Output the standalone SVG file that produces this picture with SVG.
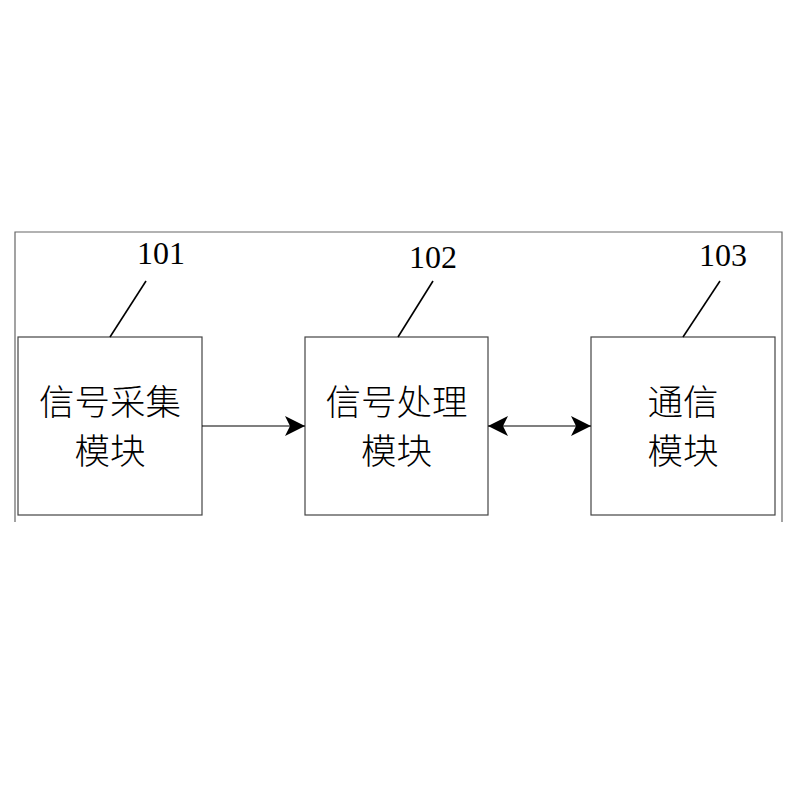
<svg xmlns="http://www.w3.org/2000/svg" width="800" height="800" viewBox="0 0 800 800">
<defs>
<style>
.frame{fill:none;stroke:#666;stroke-width:1.2}
.box{fill:#fff;stroke:#444;stroke-width:1.2}
.lead{stroke:#000;stroke-width:1.6;fill:none}
.conn{stroke:#000;stroke-width:1.2;fill:none}
.num{font-family:"Liberation Serif","Times New Roman",serif;font-size:32px;fill:#000}
.lbl{font-family:"Noto Sans CJK SC","Noto Sans",sans-serif;font-size:35.5px;font-weight:300;fill:#000;text-anchor:middle}
</style>
<marker id="ah" viewBox="0 0 20 20" refX="20" refY="10" markerWidth="20" markerHeight="20" markerUnits="userSpaceOnUse" orient="auto-start-reverse">
<path d="M0,0 L20,10 L0,20 L5,10 Z" fill="#000"/>
</marker>
</defs>
<rect width="800" height="800" fill="#fff"/>
<path class="frame" d="M15,522 V232 H782 V522"/>
<g id="n101">
<rect class="box" x="18" y="337" width="184" height="178"/>
<text class="lbl" x="110" y="415">信号采集</text>
<text class="lbl" x="110" y="464">模块</text>
<line class="lead" x1="110" y1="337" x2="146" y2="281"/>
<text class="num" x="137" y="264">101</text>
</g>
<g id="n102">
<rect class="box" x="305" y="337" width="183" height="178"/>
<text class="lbl" x="396.5" y="415">信号处理</text>
<text class="lbl" x="396.5" y="464">模块</text>
<line class="lead" x1="398" y1="337" x2="433" y2="281"/>
<text class="num" x="409" y="268">102</text>
</g>
<g id="n103">
<rect class="box" x="591" y="337" width="184" height="178"/>
<text class="lbl" x="683" y="415">通信</text>
<text class="lbl" x="683" y="464">模块</text>
<line class="lead" x1="683" y1="337" x2="720" y2="281"/>
<text class="num" x="699" y="266">103</text>
</g>
<g id="connectors">
<line class="conn" x1="202" y1="426" x2="305" y2="426" marker-end="url(#ah)"/>
<line class="conn" x1="488" y1="426" x2="591" y2="426" marker-start="url(#ah)" marker-end="url(#ah)"/>
</g>
</svg>
